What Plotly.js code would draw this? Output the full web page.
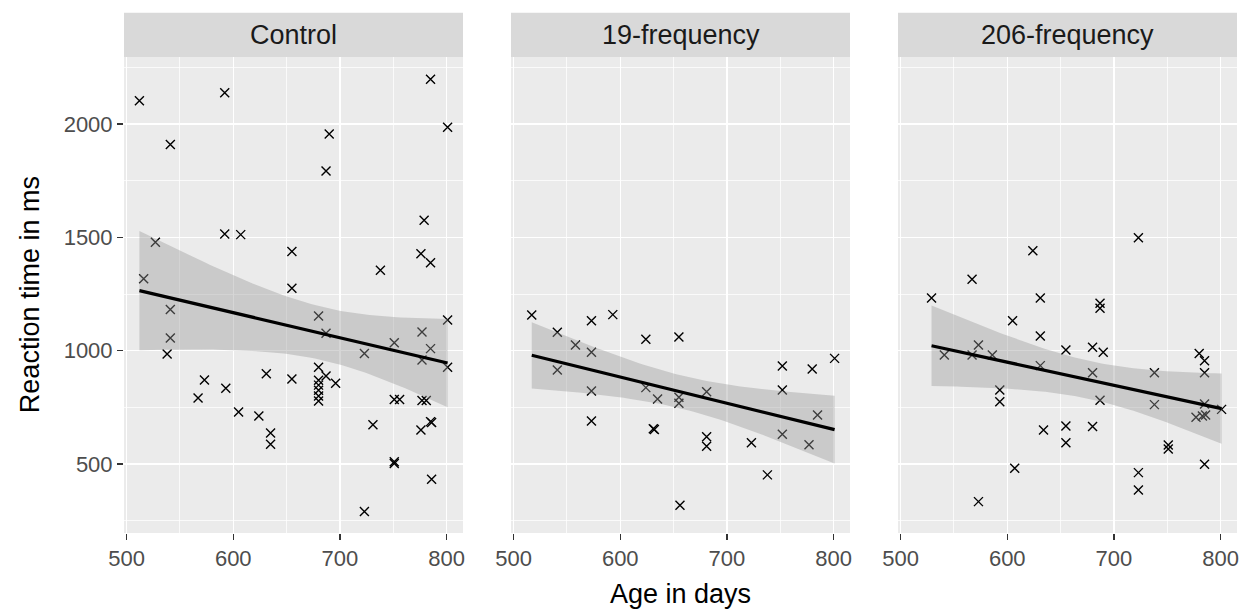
<!DOCTYPE html>
<html>
<head>
<meta charset="utf-8">
<script src="https://cdn.plot.ly/plotly-3.0.1.min.js"></script>
<style>
  html, body { margin: 0; padding: 0; background: #ffffff; }
  #chart { width: 1246px; height: 616px; }
</style>
</head>
<body>
<div id="chart"></div>
<script>
// ---------------- data ----------------
const panelNames = ["Control", "19-frequency", "206-frequency"];

const controlAge = [512,592,541,592,607,527,655,516,655,541,
  785,801,690,687,779,776,785,738,680,801,
  541,538,573,567,593,631,655,605,624,635,
  635,687,777,751,785,723,777,801,680,687,
  696,680,680,680,680,680,751,756,777,781,
  731,785,786,776,751,751,786,723];
const controlRT = [2103,2138,1910,1515,1512,1478,1438,1317,1275,1182,
  2197,1986,1956,1793,1575,1428,1388,1355,1153,1135,
  1056,985,871,791,834,898,875,729,712,637,
  587,1077,1082,1035,1009,988,959,927,927,888,
  856,870,848,825,800,778,785,785,780,780,
  673,687,683,650,510,502,433,290];

const f19Age = [517,541,573,593,558,573,541,624,655,573,
  624,635,655,655,573,631,632,681,681,681,
  723,752,780,801,752,785,752,777,656,738];
const f19RT = [1157,1081,1132,1159,1025,993,915,1050,1060,822,
  837,787,795,768,690,656,652,819,620,578,
  594,932,919,966,826,716,631,585,318,452];

const f206Age = [529,567,624,631,605,631,655,573,541,567,
  586,631,593,593,634,655,655,607,573,723,
  687,687,680,690,780,785,680,738,785,687,
  738,785,777,783,786,801,680,751,751,785,
  723,723];
const f206RT = [1232,1315,1441,1232,1132,1065,1003,1025,981,981,
  981,934,826,775,650,668,594,481,334,1498,
  1209,1187,1015,993,988,956,903,903,903,781,
  762,765,706,712,716,741,665,584,566,499,
  462,385];

const xTicks = [500, 600, 700, 800];
const yTicks = [500, 1000, 1500, 2000];

// ---------------- linear model + 95% CI (like geom_smooth(method = "lm")) ----------------
function tQuantile975(df) {
  const z = 1.959964;
  const z3 = z*z*z, z5 = z3*z*z, z7 = z5*z*z;
  return z + (z3 + z)/(4*df) + (5*z5 + 16*z3 + 3*z)/(96*df*df)
           + (3*z7 + 19*z5 + 17*z3 - 15*z)/(384*df*df*df);
}
function lmBand(xs, ys, nGrid) {
  const n = xs.length;
  const mx = xs.reduce((a,b)=>a+b,0)/n;
  const my = ys.reduce((a,b)=>a+b,0)/n;
  let sxx = 0, sxy = 0;
  for (let i=0;i<n;i++){ sxx += (xs[i]-mx)**2; sxy += (xs[i]-mx)*(ys[i]-my); }
  const b = sxy/sxx, a = my - b*mx;
  let rss = 0;
  for (let i=0;i<n;i++){ rss += (ys[i]-(a+b*xs[i]))**2; }
  const s = Math.sqrt(rss/(n-2));
  const t = tQuantile975(n-2);
  const lo = Math.min(...xs), hi = Math.max(...xs);
  const gx = [], fit = [], up = [], dn = [];
  for (let k=0;k<nGrid;k++){
    const x = lo + (hi-lo)*k/(nGrid-1);
    const f = a + b*x;
    const se = s*Math.sqrt(1/n + (x-mx)**2/sxx);
    gx.push(x); fit.push(f); up.push(f + t*se); dn.push(f - t*se);
  }
  return {gx, fit, up, dn};
}

// ---------------- layout geometry ----------------
const W = 1246, H = 616;
const panelLeft = [124, 511, 898];
const panelW = 339;
const panelTop = 57.3, panelBottom = 533;
const stripTop = 12.7;
const FONT = "Liberation Sans, Arial, Helvetica, sans-serif";

const groups = [
  {x: controlAge, y: controlRT},
  {x: f19Age, y: f19RT},
  {x: f206Age, y: f206RT}
];

const traces = [];
groups.forEach((g, i) => {
  const sfx = i === 0 ? "" : String(i+1);
  const band = lmBand(g.x, g.y, 80);
  traces.push({
    type: "scatter", mode: "markers", x: g.x, y: g.y,
    xaxis: "x"+sfx, yaxis: "y"+sfx,
    marker: {symbol: "x-thin", size: 9, color: "#000000",
             line: {width: 1.4, color: "#000000"}},
    hoverinfo: "skip", showlegend: false
  });
  traces.push({
    type: "scatter", mode: "lines",
    x: band.gx.concat(band.gx.slice().reverse()),
    y: band.up.concat(band.dn.slice().reverse()),
    xaxis: "x"+sfx, yaxis: "y"+sfx,
    fill: "toself", fillcolor: "rgba(153,153,153,0.4)",
    line: {width: 0, color: "rgba(0,0,0,0)"},
    hoverinfo: "skip", showlegend: false
  });
  traces.push({
    type: "scatter", mode: "lines", x: band.gx, y: band.fit,
    xaxis: "x"+sfx, yaxis: "y"+sfx,
    line: {width: 3.2, color: "#000000"},
    hoverinfo: "skip", showlegend: false
  });
});

const layout = {
  width: W, height: H,
  margin: {l: 0, r: 0, t: 0, b: 0},
  paper_bgcolor: "#ffffff",
  plot_bgcolor: "#EBEBEB",
  showlegend: false,
  font: {family: FONT},
  shapes: [],
  annotations: []
};

const yDomain = [(H - panelBottom)/H, (H - panelTop)/H];
for (let i=0;i<3;i++){
  const sfx = i === 0 ? "" : String(i+1);
  layout["xaxis"+sfx] = {
    domain: [panelLeft[i]/W, (panelLeft[i]+panelW)/W],
    range: [497.55, 815.45],
    anchor: "y"+sfx,
    tickvals: xTicks, ticktext: xTicks.map(String),
    ticks: "outside", ticklen: 6, tickwidth: 1.5, tickcolor: "#333333",
    tickfont: {size: 22, color: "#4D4D4D", family: FONT},
    showgrid: true, gridcolor: "#ffffff", gridwidth: 1.5,
    minor: {dtick: 50, tick0: 500, showgrid: true, gridcolor: "#ffffff", gridwidth: 0.75, ticks: ""},
    zeroline: false, showline: false, fixedrange: true
  };
  layout["yaxis"+sfx] = {
    domain: yDomain,
    range: [195.6, 2294.3],
    anchor: "x"+sfx,
    tickvals: yTicks, ticktext: yTicks.map(String),
    ticks: i === 0 ? "outside" : "", ticklen: 6, tickwidth: 1.5, tickcolor: "#333333",
    showticklabels: i === 0,
    tickfont: {size: 22, color: "#4D4D4D", family: FONT},
    showgrid: true, gridcolor: "#ffffff", gridwidth: 1.5,
    minor: {dtick: 250, tick0: 0, showgrid: true, gridcolor: "#ffffff", gridwidth: 0.75, ticks: ""},
    zeroline: false, showline: false, fixedrange: true
  };
  // facet strip
  layout.shapes.push({
    type: "rect", xref: "paper", yref: "paper",
    x0: panelLeft[i]/W, x1: (panelLeft[i]+panelW)/W,
    y0: (H - panelTop)/H, y1: (H - stripTop)/H,
    fillcolor: "#D9D9D9", line: {width: 0}, layer: "below"
  });
  layout.annotations.push({
    xref: "paper", yref: "paper",
    x: (panelLeft[i] + panelW/2)/W, y: (H - (panelTop + stripTop)/2)/H,
    text: panelNames[i], showarrow: false,
    xanchor: "center", yanchor: "middle",
    font: {size: 27, color: "#1A1A1A", family: FONT}
  });
}
// axis titles
layout.annotations.push({
  xref: "paper", yref: "paper",
  x: (panelLeft[0] + panelLeft[2] + panelW)/2/W, y: (H - 594)/H,
  text: "Age in days", showarrow: false, xanchor: "center", yanchor: "middle",
  font: {size: 27, color: "#000000", family: FONT}
});
layout.annotations.push({
  xref: "paper", yref: "paper",
  x: 30/W, y: (H - (panelTop + panelBottom)/2)/H,
  text: "Reaction time in ms", showarrow: false, textangle: -90,
  xanchor: "center", yanchor: "middle",
  font: {size: 27, color: "#000000", family: FONT}
});

Plotly.newPlot("chart", traces, layout, {displayModeBar: false, staticPlot: true});
</script>
</body>
</html>
